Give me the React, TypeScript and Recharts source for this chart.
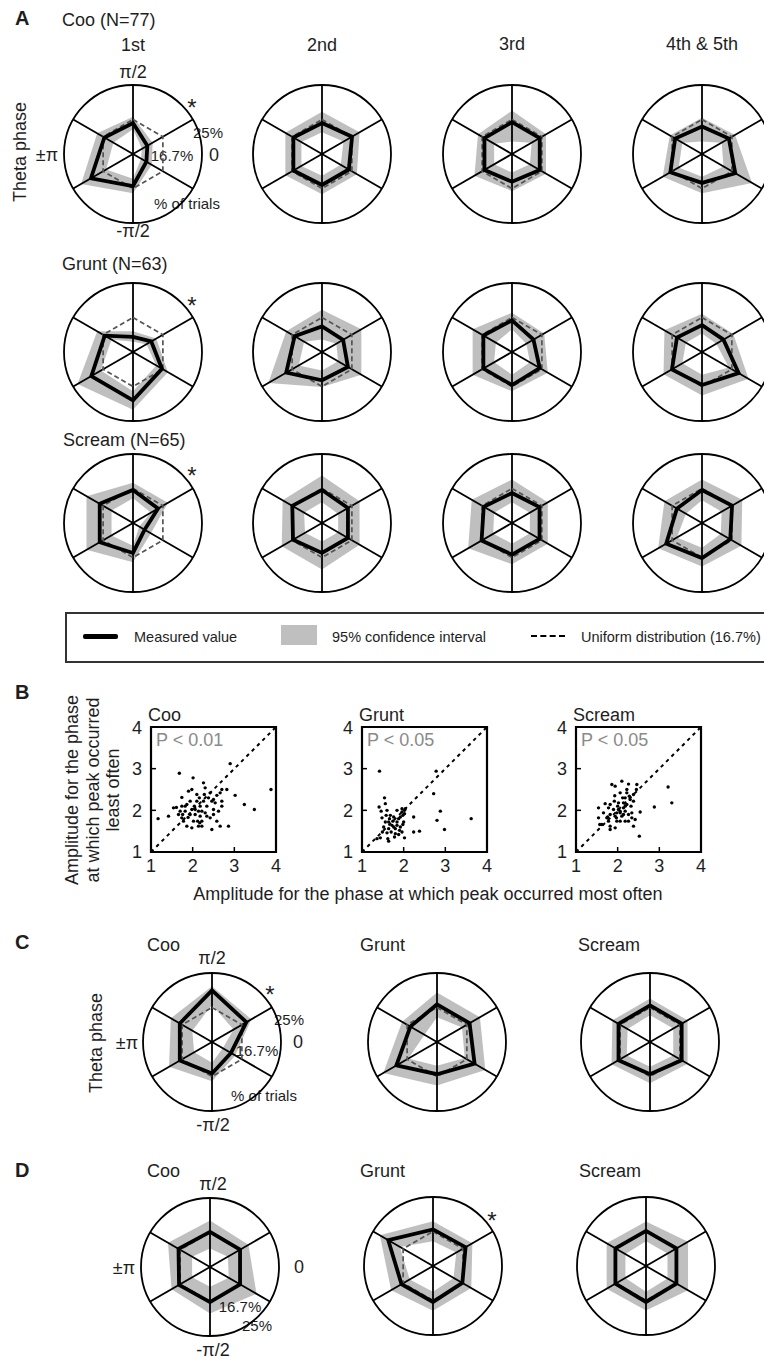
import React from "react";
import {
  RadarChart, Radar, PolarGrid, PolarAngleAxis, PolarRadiusAxis,
  ScatterChart, Scatter, XAxis, YAxis, ReferenceArea, ReferenceLine,
} from "recharts";

// theta phase bins, clockwise from the top spoke
const BINS = ["π/2", "π/6", "-π/6", "-π/2", "-5π/6", "5π/6"];
const UNIFORM = 16.7;
const R_MAX = 33.4;

// panel A, % of trials per bin (measured, 95% CI low / high)
const COO_1ST = { meas: [15, 8, 7.5, 15.5, 23.5, 16], lo: [12, 5, 4.5, 12, 15, 11], hi: [18, 11, 10.5, 19, 29, 20] };
const COO_2ND = { meas: [15, 16.8, 15, 15, 16, 16], lo: [10.5, 12, 10.5, 10.5, 11.5, 11.5], hi: [20.5, 21, 19.5, 19.5, 20.5, 20.5] };
const COO_3RD = { meas: [15.4, 15.5, 15.5, 13.4, 15.4, 15.4], lo: [6, 11, 10, 9, 10, 10], hi: [21, 19, 19, 18, 21, 19] };
const COO_4TH = { meas: [13.3, 15, 18.6, 14, 17.7, 15], lo: [6, 11, 12, 11, 13, 11], hi: [17.5, 18.5, 28, 19, 22, 18] };

const GRUNT_1ST = { meas: [7.3, 10.2, 16.2, 23.4, 23.3, 15.8], lo: [5, 7.5, 13, 19, 18, 12], hi: [10, 13, 19.5, 28, 31, 20] };
const GRUNT_2ND = { meas: [12.4, 11.8, 14.5, 13.7, 20, 15.3], lo: [6, 8, 9, 9, 13, 10], hi: [20.5, 22, 22, 17, 30, 20] };
const GRUNT_3RD = { meas: [15.3, 12, 15.5, 16, 16, 16], lo: [11, 8, 10, 11, 10, 9], hi: [19, 18, 20, 19, 22, 22] };
const GRUNT_4TH = { meas: [13, 12, 20.5, 16, 16.8, 14], lo: [9, 8, 15, 11, 11, 9], hi: [18.5, 17.5, 26, 21, 21.5, 21] };

const SCREAM_1ST = { meas: [16, 14, 6.5, 14.5, 18.6, 18.6], lo: [12, 10, 3.5, 11, 12, 12], hi: [19.5, 19.5, 10, 19, 26, 26] };
const SCREAM_2ND = { meas: [16, 14.5, 14.5, 14.5, 16.2, 16.6], lo: [10, 9, 9, 9, 9.5, 10], hi: [23, 21, 21, 22.5, 22.5, 22] };
const SCREAM_3RD = { meas: [14.5, 15.4, 15.4, 15.3, 17, 15.8], lo: [10, 10, 10, 10, 10.5, 10], hi: [21, 20, 20, 20, 24.5, 22.5] };
const SCREAM_4TH = { meas: [16, 16.8, 15.8, 17, 20, 14], lo: [11, 11, 10.5, 12, 14, 9], hi: [21, 22.5, 22, 21, 24.5, 21] };

// panel C
const C_COO = { meas: [25, 19.2, 10.6, 15.3, 18, 18], lo: [18, 12, 6, 10, 10, 11], hi: [27, 22, 13, 19, 24, 23] };
const C_GRUNT = { meas: [18.2, 18.2, 21, 15.6, 22.7, 14.9], lo: [12, 14, 15.5, 11.5, 16, 7], hi: [24, 24, 27, 21, 30, 19.5] };
const C_SCREAM = { meas: [17.7, 17.7, 17.7, 15.6, 17.6, 17.6], lo: [13, 13, 13, 12, 13, 12.5], hi: [21, 21, 21, 20, 21.5, 21] };

// panel D
const D_COO = { meas: [17, 16.8, 16.8, 17, 17.3, 17.6], lo: [9, 10, 10.5, 9.5, 10, 10], hi: [22.5, 21.5, 26, 22.5, 21.5, 23.5] };
const D_GRUNT = { meas: [17.7, 18.2, 16.4, 17.4, 17.6, 25], lo: [12, 13, 11.5, 12.5, 13, 18.5], hi: [21.7, 22, 21.4, 21.7, 23.4, 29.7] };
const D_SCREAM = { meas: [17, 17, 17, 17.4, 17.1, 17.1], lo: [12, 12, 12, 12.5, 11.5, 11.5], hi: [21.5, 23.5, 23.5, 21.5, 22, 22] };

// panel B, amplitude (most often phase, least often phase)
const COO_PTS = [
  [1.17, 1.8], [1.42, 1.86], [1.68, 2.89], [1.61, 2.07], [1.74, 2.31], [1.82, 1.98], [1.78, 1.74],
  [1.89, 1.83], [1.9, 2.46], [1.98, 2.5], [2.01, 2.78], [1.94, 2.22], [2.04, 2.1], [2.1, 2.22],
  [2.06, 1.9], [2.18, 2.1], [2.17, 1.7], [2.22, 1.62], [1.98, 1.58], [1.86, 1.62], [1.74, 2.1],
  [1.7, 1.98], [2.26, 2.66], [2.3, 2.54], [2.28, 2.38], [2.34, 2.1], [2.42, 2.42], [2.46, 2.22],
  [2.5, 2.02], [2.54, 2.18], [2.58, 2.36], [2.66, 2.42], [2.7, 2.5], [2.82, 2.5], [2.9, 3.12],
  [3.02, 2.36], [3.24, 2.14], [3.48, 2.02], [2.42, 1.82], [2.46, 1.54], [2.58, 1.74], [2.66, 1.62],
  [2.86, 1.62], [2.62, 1.98], [2.7, 2.1], [2.7, 2.22], [2.34, 1.86], [2.18, 1.86], [2.12, 1.74],
  [2.02, 1.74], [1.82, 2.1], [1.76, 1.9], [1.54, 2.06], [1.66, 1.9], [2.16, 2.3], [2.22, 1.98],
  [2.3, 1.94], [2.5, 1.9], [1.98, 2.02], [2.1, 2.38], [1.86, 2.14], [1.94, 1.9], [2.06, 2.02],
  [2.14, 1.98], [2.26, 2.22], [2.38, 2.3], [1.74, 1.82], [2.14, 1.62], [2.5, 2.26], [2.22, 1.74],
  [3.88, 2.5],
];
const GRUNT_PTS = [
  [1.42, 2.94], [2.78, 2.94], [2.72, 2.4], [2.88, 1.98], [2.8, 1.76], [2.98, 1.54], [3.62, 1.8],
  [2.24, 1.84], [2.24, 1.48], [2.38, 1.5], [1.54, 2.3], [1.56, 2.16], [1.41, 2.08], [1.46, 1.98],
  [1.48, 1.82], [1.58, 1.88], [1.64, 1.72], [1.68, 1.88], [1.76, 1.84], [1.84, 2.0], [1.88, 1.8],
  [1.96, 1.96], [1.98, 1.88], [2.02, 2.0], [2.0, 1.72], [1.92, 1.6], [1.8, 1.56], [1.72, 1.64],
  [1.64, 1.56], [1.6, 1.46], [1.62, 1.32], [1.64, 1.26], [1.44, 1.34], [1.36, 1.32], [1.8, 1.44],
  [1.88, 1.42], [1.96, 1.48], [2.02, 1.34], [1.84, 1.72], [1.74, 1.74], [1.92, 1.84], [1.56, 1.72],
  [1.7, 1.48], [1.84, 1.64], [1.98, 1.66], [2.02, 1.92], [1.52, 1.6], [1.76, 1.6], [1.66, 1.8],
  [1.78, 1.36], [1.96, 2.04], [2.04, 2.04], [1.9, 1.52], [1.6, 2.0], [1.49, 1.48],
];
const SCREAM_PTS = [
  [3.21, 2.56], [3.3, 2.18], [2.88, 2.08], [2.52, 1.38], [1.86, 2.62], [1.94, 2.58], [2.1, 2.7],
  [2.26, 2.63], [2.46, 2.62], [2.45, 2.5], [2.38, 2.38], [2.22, 2.42], [2.06, 2.42], [2.18, 2.3],
  [2.3, 2.26], [2.22, 2.14], [2.14, 2.06], [2.02, 2.02], [1.98, 1.94], [2.06, 1.94], [2.14, 1.9],
  [2.26, 1.9], [2.34, 1.82], [2.42, 1.78], [2.54, 1.96], [2.38, 1.62], [2.06, 1.74], [1.98, 1.74],
  [1.94, 1.58], [1.82, 1.54], [1.78, 1.74], [1.74, 1.82], [1.78, 2.06], [1.7, 2.16], [1.54, 2.06],
  [1.57, 1.66], [1.62, 1.66], [1.54, 1.82], [1.92, 2.22], [1.93, 2.35], [2.14, 2.18], [2.0, 2.1],
  [2.06, 1.98], [2.18, 1.98], [2.1, 1.86], [2.26, 1.74], [1.76, 1.84], [1.82, 1.9], [2.18, 1.74],
  [1.94, 1.86], [2.32, 2.1], [2.38, 2.22], [1.82, 2.14], [1.66, 1.94], [2.02, 2.18], [2.12, 2.3],
  [1.9, 2.02], [2.28, 2.34], [1.97, 1.82], [2.18, 2.1], [2.34, 1.94], [1.82, 1.62], [2.22, 2.5],
];
const AMP_TICKS = [1, 2, 3, 4];

const FONT = '"Liberation Sans", Arial, Helvetica, sans-serif';
const INK = "#1e1e1e";

type TProps = {
  x: number; y: number; size?: number; start?: boolean; bold?: boolean;
  color?: string; rotate?: boolean; children: React.ReactNode;
};
const T = ({ x, y, size = 18, start, bold, color = INK, rotate, children }: TProps) => (
  <div
    style={{
      position: "absolute", left: x, top: y, fontSize: size, lineHeight: 1,
      fontWeight: bold ? 700 : 400, color, whiteSpace: "nowrap",
      transform: `translate(${start ? "0" : "-50%"}, -50%)${rotate ? " rotate(-90deg)" : ""}`,
    }}
  >
    {children}
  </div>
);

const Star = ({ x, y }: { x: number; y: number }) => <T x={x} y={y + 6} size={24}>*</T>;

type PhaseSet = { meas: number[]; lo: number[]; hi: number[] };
const RAD = 69;

const PhasePolar = ({ cx, cy, set }: { cx: number; cy: number; set: PhaseSet }) => {
  const rows = BINS.map((bin, i) => ({
    bin,
    meas: set.meas[i],
    ci: [set.lo[i], set.hi[i]],
    uni: UNIFORM,
  }));
  return (
    <div style={{ position: "absolute", left: cx - 75, top: cy - 75 }}>
      <RadarChart width={150} height={150} data={rows} outerRadius={RAD}
        margin={{ top: 0, right: 0, bottom: 0, left: 0 }}>
        <PolarAngleAxis dataKey="bin" tick={false} tickLine={false} axisLine={false} />
        <PolarRadiusAxis type="number" domain={[0, R_MAX]} tick={false} tickLine={false} axisLine={false} />
        <PolarGrid gridType="circle" polarRadius={[RAD]} stroke="#000" strokeWidth={1.8} strokeOpacity={1} />
        <Radar dataKey="ci" stroke="none" fill="#000" fillOpacity={0.25} isAnimationActive={false} />
        <Radar dataKey="uni" fill="none" stroke="#555" strokeWidth={1.7} strokeDasharray="5 3" isAnimationActive={false} />
        <Radar dataKey="meas" fill="none" stroke="#000" strokeWidth={3.8} isAnimationActive={false} />
      </RadarChart>
    </div>
  );
};

const Dot = (props: any) => <circle cx={props.cx} cy={props.cy} r={1.7} fill="#000" />;

const BOX_TOP = 727;

const AmpScatter = ({ left, pts, title, p }: { left: number; pts: number[][]; title: string; p: string }) => {
  const rows = pts.map(([x, y]) => ({ x, y }));
  const tickStyle = { fill: INK, fontSize: 18 };
  return (
    <>
      <div style={{ position: "absolute", left: left - 30, top: BOX_TOP - 10 }}>
        <ScatterChart width={165} height={165} margin={{ top: 10, right: 10, bottom: 0, left: 0 }}>
          <XAxis type="number" dataKey="x" domain={[1, 4]} ticks={AMP_TICKS} height={30}
            axisLine={false} tickSize={-5} tickMargin={12} tick={tickStyle}
            tickLine={{ stroke: "#000", strokeWidth: 1.5 }} />
          <YAxis type="number" dataKey="y" domain={[1, 4]} ticks={AMP_TICKS} width={30}
            axisLine={false} tickSize={-5} tickMargin={14} tick={tickStyle}
            tickLine={{ stroke: "#000", strokeWidth: 1.5 }} />
          <ReferenceArea x1={1} x2={4} y1={1} y2={4} fill="none" stroke="#000" strokeWidth={2.2} />
          <ReferenceLine segment={[{ x: 1, y: 1 }, { x: 4, y: 4 }]} stroke="#000" strokeWidth={2} strokeDasharray="3.5 4" />
          <Scatter data={rows} shape={Dot} isAnimationActive={false} />
        </ScatterChart>
      </div>
      <T x={left - 3} y={715} start>{title}</T>
      <T x={left + 5} y={740} start color="#8a8a8a">{p}</T>
    </>
  );
};

const COLS_A = [133, 322, 512, 702];
const ROWS_A = [154, 352, 523];

export default function App() {
  return (
    <div style={{ position: "absolute", left: 0, top: 0, width: 764, height: 1359, overflow: "hidden", background: "#fff", fontFamily: FONT }}>
      {/* panel A */}
      <T x={15} y={18} start bold size={20}>A</T>
      <T x={62} y={20} start>Coo (N=77)</T>
      <T x={COLS_A[0]} y={45}>1st</T>
      <T x={COLS_A[1]} y={45}>2nd</T>
      <T x={COLS_A[2]} y={44}>3rd</T>
      <T x={COLS_A[3]} y={44}>4th &amp; 5th</T>
      <T x={20} y={152} rotate>Theta phase</T>
      <T x={133} y={72}>π/2</T>
      <T x={133} y={231}>-π/2</T>
      <T x={47} y={155}>±π</T>
      <T x={214} y={155}>0</T>
      <T x={208} y={132} size={15}>25%</T>
      <T x={172} y={155} size={15}>16.7%</T>
      <T x={187} y={203} size={15}>% of trials</T>
      <Star x={192} y={102} />
      <T x={62} y={264} start>Grunt (N=63)</T>
      <Star x={192} y={300} />
      <T x={63} y={440} start>Scream (N=65)</T>
      <Star x={192} y={470} />

      <PhasePolar cx={COLS_A[0]} cy={ROWS_A[0]} set={COO_1ST} />
      <PhasePolar cx={COLS_A[1]} cy={ROWS_A[0]} set={COO_2ND} />
      <PhasePolar cx={COLS_A[2]} cy={ROWS_A[0]} set={COO_3RD} />
      <PhasePolar cx={COLS_A[3]} cy={ROWS_A[0]} set={COO_4TH} />
      <PhasePolar cx={COLS_A[0]} cy={ROWS_A[1]} set={GRUNT_1ST} />
      <PhasePolar cx={COLS_A[1]} cy={ROWS_A[1]} set={GRUNT_2ND} />
      <PhasePolar cx={COLS_A[2]} cy={ROWS_A[1]} set={GRUNT_3RD} />
      <PhasePolar cx={COLS_A[3]} cy={ROWS_A[1]} set={GRUNT_4TH} />
      <PhasePolar cx={COLS_A[0]} cy={ROWS_A[2]} set={SCREAM_1ST} />
      <PhasePolar cx={COLS_A[1]} cy={ROWS_A[2]} set={SCREAM_2ND} />
      <PhasePolar cx={COLS_A[2]} cy={ROWS_A[2]} set={SCREAM_3RD} />
      <PhasePolar cx={COLS_A[3]} cy={ROWS_A[2]} set={SCREAM_4TH} />

      {/* legend */}
      <div style={{ position: "absolute", left: 65, top: 612, width: 720, height: 51, boxSizing: "border-box", border: "2px solid #333" }} />
      <div style={{ position: "absolute", left: 83, top: 634, width: 35, height: 4.5, background: "#000", borderRadius: 2 }} />
      <T x={134} y={637} start size={14.5}>Measured value</T>
      <div style={{ position: "absolute", left: 281, top: 625, width: 36, height: 20, background: "#bfbfbf" }} />
      <T x={332} y={637} start size={14.5}>95% confidence interval</T>
      <div style={{ position: "absolute", left: 531, top: 635, width: 34, height: 0, borderTop: "2px dashed #000" }} />
      <T x={581} y={637} start size={14.5}>Uniform distribution (16.7%)</T>

      {/* panel B */}
      <T x={15} y={692} start bold size={20}>B</T>
      <div style={{
        position: "absolute", left: 93, top: 790, transform: "translate(-50%, -50%) rotate(-90deg)",
        fontSize: 18, lineHeight: "20.5px", textAlign: "center", whiteSpace: "nowrap", color: INK,
      }}>
        Amplitude for the phase<br />at which peak occurred<br />least often
      </div>
      <AmpScatter left={151} pts={COO_PTS} title="Coo" p="P < 0.01" />
      <AmpScatter left={362} pts={GRUNT_PTS} title="Grunt" p="P < 0.05" />
      <AmpScatter left={576} pts={SCREAM_PTS} title="Scream" p="P < 0.05" />
      <T x={428} y={894}>Amplitude for the phase at which peak occurred most often</T>

      {/* panel C */}
      <T x={15} y={942} start bold size={20}>C</T>
      <T x={147} y={945} start>Coo</T>
      <T x={360} y={945} start>Grunt</T>
      <T x={578} y={945} start>Scream</T>
      <T x={96} y={1043} rotate>Theta phase</T>
      <T x={212} y={958}>π/2</T>
      <T x={213} y={1125}>-π/2</T>
      <T x={127} y={1043}>±π</T>
      <T x={298} y={1042}>0</T>
      <T x={289} y={1019} size={15}>25%</T>
      <T x={257} y={1050} size={15}>16.7%</T>
      <T x={264} y={1095} size={15}>% of trials</T>
      <Star x={270} y={989} />
      <PhasePolar cx={212} cy={1042} set={C_COO} />
      <PhasePolar cx={437} cy={1042} set={C_GRUNT} />
      <PhasePolar cx={650} cy={1042} set={C_SCREAM} />

      {/* panel D */}
      <T x={15} y={1170} start bold size={20}>D</T>
      <T x={147} y={1171} start>Coo</T>
      <T x={360} y={1171} start>Grunt</T>
      <T x={579} y={1171} start>Scream</T>
      <T x={213} y={1184}>π/2</T>
      <T x={213} y={1350}>-π/2</T>
      <T x={124} y={1268}>±π</T>
      <T x={299} y={1267}>0</T>
      <T x={240} y={1306} size={15}>16.7%</T>
      <T x={257} y={1325} size={15}>25%</T>
      <Star x={492} y={1215} />
      <PhasePolar cx={210} cy={1267} set={D_COO} />
      <PhasePolar cx={433} cy={1266} set={D_GRUNT} />
      <PhasePolar cx={646} cy={1266} set={D_SCREAM} />
    </div>
  );
}
